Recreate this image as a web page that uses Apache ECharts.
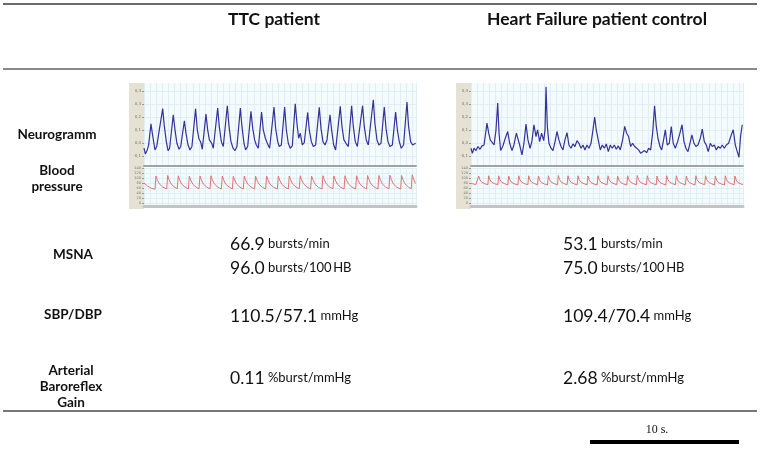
<!DOCTYPE html>
<html><head><meta charset="utf-8">
<script src="https://cdn.jsdelivr.net/npm/echarts@6/dist/echarts.min.js"></script>
<style>html,body{margin:0;padding:0;background:#fff}#c{width:760px;height:451px}</style>
</head><body><div id="c"></div><script>
// ---- data ----
const columnTitles = ['TTC patient', 'Heart Failure patient control'];
const rowLabels = ['Neurogramm', 'Blood\npressure', 'MSNA', 'SBP/DBP', 'Arterial\nBaroreflex\nGain'];
const msnaPerMin = [66.9, 53.1];
const msnaPer100HB = [96.0, 75.0];
const sbp = [110.5, 109.4];
const dbp = [57.1, 70.4];
const baroGain = [0.11, 2.68];
const neuroTicks = [-0.1, 0, 0.1, 0.2, 0.3, 0.4];
const bpTicks = [0, 20, 40, 60, 80, 100, 120, 140];
const scaleBarLabel = '10 s.';

// neurogram traces [time s, amplitude]
const neuroTTC = [
[0,-0.041],[0.11,-0.085],[0.25,-0.059],[0.38,-0.016],
[0.57,0.147],[0.68,0.075],[0.79,0.010],[0.90,-0.054],[1.04,-0.028],[1.20,-0.041],
[1.53,0.264],[1.67,0.127],[1.83,0.010],[1.97,-0.059],[2.10,-0.041],
[2.40,0.217],[2.54,0.101],[2.70,-0.003],[2.87,-0.049],[3.01,-0.028],
[3.31,0.171],[3.44,0.075],[3.61,-0.016],[3.77,-0.054],[3.93,-0.028],
[4.23,0.264],[4.37,0.101],[4.51,0.028],[4.64,0.010],[4.78,-0.049],
[5.08,0.222],[5.22,0.101],[5.36,0.023],[5.55,-0.003],[5.68,-0.041],
[6.04,0.269],[6.17,0.127],[6.34,0.010],[6.50,-0.028],[6.64,-0.041],
[6.83,0.287],[6.97,0.127],[7.13,0.010],[7.30,-0.041],[7.46,-0.059],[7.62,-0.028],
[7.90,0.269],[8.03,0.127],[8.20,-0.003],[8.33,-0.054],[8.50,-0.028],
[8.77,0.243],[8.91,0.114],[9.07,0.023],[9.21,-0.016],[9.37,-0.041],
[9.64,0.238],[9.78,0.101],[9.95,0.036],[10.11,-0.003],[10.30,-0.041],
[10.66,0.276],[10.79,0.114],[10.96,0.010],[11.09,-0.028],[11.26,-0.016],
[11.53,0.276],[11.67,0.101],[11.83,-0.003],[11.99,-0.041],[12.16,-0.023],
[12.40,0.302],[12.54,0.152],[12.68,0.036],[12.81,0.075],[12.98,-0.016],[13.14,0.003],
[13.42,0.235],[13.55,0.101],[13.72,0.010],[13.88,-0.028],[14.07,-0.016],
[14.37,0.274],[14.51,0.114],[14.67,0.010],[14.84,-0.016],[15.00,0.023],
[15.25,0.217],[15.38,0.101],[15.55,-0.016],[15.71,-0.054],[15.85,-0.049],
[16.09,0.282],[16.23,0.127],[16.39,0.023],[16.56,-0.003],[16.75,-0.028],
[17.02,0.287],[17.16,0.127],[17.32,0.010],[17.49,-0.028],[17.65,-0.016],
[17.92,0.287],[18.06,0.127],[18.22,0.023],[18.39,-0.016],[18.55,-0.003],
[18.80,0.333],[18.93,0.152],[19.10,0.023],[19.26,-0.016],[19.43,-0.003],
[19.70,0.276],[19.84,0.114],[20.00,0.010],[20.16,-0.028],[20.36,-0.016],
[20.63,0.238],[20.77,0.101],[20.93,0.010],[21.09,-0.041],[21.28,-0.016],
[21.56,0.315],[21.69,0.127],[21.86,0.010],[22.02,-0.016],[22.27,-0.003]
];
const neuroHF = [
[0,-0.041],[0.11,-0.080],[0.25,-0.041],[0.41,-0.059],[0.57,-0.028],[0.74,-0.049],[0.90,-0.023],[1.07,-0.016],
[1.31,0.152],[1.45,0.075],[1.58,0.023],[1.72,0.028],[1.89,-0.016],[2.05,0.101],[2.19,0.307],[2.30,0.075],
[2.43,-0.059],[2.60,-0.028],[2.81,0.036],[3.01,0.088],[3.17,-0.003],[3.36,-0.059],[3.52,-0.016],[3.72,0.075],
[3.85,0.088],[3.99,-0.016],[4.18,-0.093],[4.34,-0.003],[4.51,0.145],[4.67,0.023],[4.84,-0.041],[4.99,0.010],
[5.16,0.140],[5.33,0.049],[5.46,0.101],[5.63,0.010],[5.79,0.075],[5.96,0.018],[6.07,0.101],[6.15,0.432],
[6.26,0.127],[6.39,-0.003],[6.56,-0.041],[6.72,-0.059],[6.89,0.010],[7.05,0.088],[7.21,0.023],[7.38,-0.028],
[7.54,-0.054],[7.70,0.023],[7.87,0.080],[8.03,-0.016],[8.20,-0.041],[8.36,-0.008],[8.52,-0.028],[8.69,0.018],
[8.85,-0.003],[9.02,-0.041],[9.18,-0.016],[9.34,-0.054],[9.51,-0.016],[9.67,-0.041],[9.84,-0.003],[10.00,0.101],
[10.14,0.199],[10.27,0.101],[10.44,0.018],[10.60,-0.054],[10.77,-0.016],[10.93,-0.041],[11.09,-0.008],[11.26,-0.067],
[11.42,-0.016],[11.58,-0.041],[11.75,-0.016],[11.91,-0.049],[12.08,-0.023],[12.24,-0.054],[12.43,0.023],[12.60,0.127],
[12.76,0.075],[12.92,0.049],[13.09,-0.028],[13.25,-0.003],[13.42,-0.028],[13.58,-0.016],[13.74,-0.054],[13.91,-0.080],
[14.07,-0.093],[14.23,-0.059],[14.40,-0.075],[14.56,-0.041],[14.73,-0.054],[14.89,0.075],[15.05,0.287],[15.19,0.127],
[15.33,0.036],[15.49,-0.028],[15.63,-0.054],[15.79,0.023],[15.93,0.101],[16.09,-0.016],[16.26,-0.003],[16.42,0.127],
[16.58,-0.003],[16.75,-0.041],[16.94,0.010],[17.13,0.075],[17.30,0.140],[17.46,0.010],[17.62,-0.041],[17.79,-0.067],
[17.95,-0.003],[18.11,0.062],[18.28,-0.003],[18.44,-0.028],[18.61,-0.016],[18.80,0.036],[18.96,0.106],[19.13,0.010],
[19.29,-0.016],[19.45,-0.067],[19.62,-0.003],[19.78,-0.028],[19.95,-0.016],[20.11,-0.054],[20.27,-0.028],[20.44,-0.041],
[20.60,-0.016],[20.77,-0.041],[20.93,-0.016],[21.12,-0.003],[21.34,0.062],[21.50,0.101],[21.67,-0.016],[21.83,-0.067],
[21.97,-0.111],[22.10,0.049],[22.24,0.140]
];
// blood pressure traces [time s, mmHg]
const bpTTC = [
[0,80],[0.3,67],[0.6,59],[0.90,55],
[0.98,108],[1.09,93],[1.25,77],[1.53,64],[1.86,56],
[1.94,110],[2.05,94],[2.21,77],[2.49,64],[2.73,57],
[2.81,109],[2.92,93],[3.08,76],[3.36,64],[3.64,56],
[3.72,107],[3.83,92],[3.99,76],[4.27,63],[4.51,57],
[4.59,108],[4.70,93],[4.86,76],[5.14,64],[5.41,56],
[5.49,109],[5.60,93],[5.76,77],[6.04,64],[6.34,56],
[6.42,108],[6.53,93],[6.69,76],[6.97,64],[7.24,56],
[7.32,107],[7.43,92],[7.59,76],[7.87,63],[8.14,56],
[8.22,108],[8.33,93],[8.49,76],[8.77,64],[9.07,56],
[9.15,107],[9.26,92],[9.42,76],[9.70,63],[9.97,56],
[10.05,108],[10.16,93],[10.32,76],[10.60,64],[10.93,56],
[11.01,107],[11.12,92],[11.28,76],[11.56,63],[11.83,56],
[11.91,108],[12.02,93],[12.18,76],[12.46,64],[12.73,57],
[12.81,109],[12.92,93],[13.08,77],[13.36,64],[13.66,56],
[13.74,108],[13.85,93],[14.01,76],[14.29,63],[14.59,56],
[14.67,109],[14.78,93],[14.94,77],[15.22,64],[15.49,57],
[15.57,108],[15.68,92],[15.84,76],[16.12,63],[16.40,56],
[16.48,109],[16.59,93],[16.75,77],[17.03,64],[17.35,56],
[17.43,109],[17.54,93],[17.70,76],[17.98,64],[18.25,56],
[18.33,110],[18.44,94],[18.60,77],[18.88,64],[19.18,56],
[19.26,110],[19.37,94],[19.53,77],[19.81,64],[20.08,57],
[20.16,111],[20.27,95],[20.43,77],[20.71,64],[21.04,56],
[21.12,110],[21.23,94],[21.39,77],[21.67,64],[21.91,57],
[21.99,113],[22.10,96],[22.26,78],[22.30,77]
];
const bpHF = [
[0,78],[0.20,76],[0.40,74],[0.56,73],
[0.63,108],[0.73,93],[0.88,83],[1.13,77],[1.38,73],
[1.45,109],[1.55,93],[1.70,83],[1.95,77],[2.20,73],
[2.27,109],[2.37,93],[2.52,83],[2.77,77],[3.02,72],
[3.09,108],[3.19,92],[3.34,82],[3.59,76],[3.84,72],
[3.91,109],[4.01,93],[4.16,83],[4.41,77],[4.66,73],
[4.73,109],[4.83,93],[4.98,83],[5.23,77],[5.45,73],
[5.52,108],[5.62,92],[5.77,82],[6.02,76],[6.27,72],
[6.34,109],[6.44,93],[6.59,83],[6.84,77],[7.09,73],
[7.16,110],[7.26,94],[7.41,83],[7.66,77],[7.88,73],
[7.95,109],[8.05,93],[8.20,83],[8.45,77],[8.70,72],
[8.77,109],[8.87,93],[9.02,83],[9.27,77],[9.52,73],
[9.59,108],[9.69,92],[9.84,82],[10.09,76],[10.34,72],
[10.41,109],[10.51,93],[10.66,83],[10.91,77],[11.16,73],
[11.23,109],[11.33,93],[11.48,83],[11.73,77],[11.95,73],
[12.02,108],[12.12,92],[12.27,82],[12.52,76],[12.77,72],
[12.84,109],[12.94,93],[13.09,83],[13.34,77],[13.56,73],
[13.63,110],[13.73,94],[13.88,83],[14.13,77],[14.38,73],
[14.45,109],[14.55,93],[14.70,83],[14.95,77],[15.18,72],
[15.25,108],[15.35,92],[15.50,82],[15.75,76],[15.97,72],
[16.04,109],[16.14,93],[16.29,83],[16.54,77],[16.76,73],
[16.83,109],[16.93,93],[17.08,83],[17.33,77],[17.58,73],
[17.65,108],[17.75,92],[17.90,82],[18.15,76],[18.37,72],
[18.44,109],[18.54,93],[18.69,83],[18.94,77],[19.16,73],
[19.23,109],[19.33,93],[19.48,83],[19.73,77],[19.96,72],
[20.03,108],[20.13,92],[20.28,82],[20.53,76],[20.78,72],
[20.85,109],[20.95,93],[21.10,83],[21.35,77],[21.57,73],
[21.64,108],[21.74,92],[21.89,82],[22.14,76],[22.30,74]
];

// ---- layout ----
const T_MAX = 22.3;
const panelLeft = [144, 471];
const PANEL_W = 272;
const NEURO_TOP = 83, NEURO_H = 83;
const BP_TOP = 168, BP_H = 38;
const LABEL_FONT = 'Lato, "Open Sans", sans-serif';
const fmtComma = v => v.toFixed(1).replace('.', ',');

const grids = [], xAxes = [], yAxes = [], series = [];
function addPanel(left, neuroData, bpData) {
  // neurogram
  let gi = grids.length;
  grids.push({left: left, top: NEURO_TOP, width: PANEL_W, height: NEURO_H, show: true,
    backgroundColor: '#f5fbfd', borderWidth: 0});
  xAxes.push({gridIndex: gi, type: 'value', min: 0, max: T_MAX, interval: 0.5,
    axisLine: {show: true, onZero: false, lineStyle: {color: '#a3a3a3', width: 2}},
    axisTick: {show: false}, axisLabel: {show: false},
    splitLine: {show: true, lineStyle: {color: '#dcf0f6', width: 1}}});
  yAxes.push({gridIndex: gi, type: 'value', min: -0.178, max: 0.462, interval: 0.05,
    axisLine: {show: false},
    axisTick: {show: true, customValues: neuroTicks, length: 2, lineStyle: {color: '#999'}},
    axisLabel: {show: true, customValues: neuroTicks, formatter: v => fmtComma(v), fontSize: 4,
      color: '#777', margin: 3, fontFamily: 'DejaVu Sans'},
    splitLine: {show: true, lineStyle: {color: '#dcf0f6', width: 1}}});
  series.push({type: 'line', xAxisIndex: xAxes.length - 1, yAxisIndex: yAxes.length - 1,
    data: neuroData, showSymbol: false, symbol: 'none', animation: false,
    lineStyle: {color: '#33339a', width: 1.2}});
  // blood pressure
  gi = grids.length;
  grids.push({left: left, top: BP_TOP, width: PANEL_W, height: BP_H, show: true,
    backgroundColor: '#f5fbfd', borderWidth: 0});
  xAxes.push({gridIndex: gi, type: 'value', min: 0, max: T_MAX, interval: 0.5,
    axisLine: {show: true, onZero: false, lineStyle: {color: '#c4c4c4', width: 3}},
    axisTick: {show: false}, axisLabel: {show: false},
    splitLine: {show: true, lineStyle: {color: '#dcf0f6', width: 1}}});
  yAxes.push({gridIndex: gi, type: 'value', min: -12, max: 140, interval: 20,
    axisLine: {show: false},
    axisTick: {show: true, customValues: bpTicks, length: 2, lineStyle: {color: '#999'}},
    axisLabel: {show: true, customValues: bpTicks, fontSize: 3.5, color: '#777', margin: 3,
      fontFamily: 'DejaVu Sans'},
    splitLine: {show: true, lineStyle: {color: '#dcf0f6', width: 1}}});
  series.push({type: 'line', xAxisIndex: xAxes.length - 1, yAxisIndex: yAxes.length - 1,
    data: bpData, showSymbol: false, symbol: 'none', animation: false,
    lineStyle: {color: '#e07474', width: 1}});
}
addPanel(panelLeft[0], neuroTTC, bpTTC);
addPanel(panelLeft[1], neuroHF, bpHF);

const colX = [230, 563];
const graphic = [];
// panel side strips
panelLeft.forEach(l => {
  graphic.push({type: 'rect', z: -1, shape: {x: l - 15, y: NEURO_TOP, width: 15, height: 126},
    style: {fill: '#e5e2d3'}});
});
// table rules
graphic.push({type: 'line', shape: {x1: 3, y1: 4, x2: 757, y2: 4}, style: {stroke: '#3a3a3a', lineWidth: 1.5}});
graphic.push({type: 'line', shape: {x1: 3, y1: 69, x2: 757, y2: 69}, style: {stroke: '#8a8a8a', lineWidth: 2}});
graphic.push({type: 'line', shape: {x1: 3, y1: 411, x2: 757, y2: 411}, style: {stroke: '#4a4a4a', lineWidth: 1.5}});
// scale bar
graphic.push({type: 'line', shape: {x1: 590, y1: 442, x2: 739, y2: 442}, style: {stroke: '#000', lineWidth: 4}});
graphic.push({type: 'text', x: 657, y: 430, style: {text: scaleBarLabel, font: '12px "Liberation Serif", "DejaVu Serif", serif',
  fill: '#111', align: 'center', verticalAlign: 'middle'}});
// column titles
const titleX = [274, 597];
columnTitles.forEach((t, i) => graphic.push({type: 'text', x: titleX[i], y: 19,
  style: {text: t, font: 'bold 17.5px ' + LABEL_FONT, fill: '#111', align: 'center', verticalAlign: 'middle'}}));
// row labels
const rowPos = [[57, 135], [57, 179], [73, 255], [73, 315], [71, 387]];
rowLabels.forEach((t, i) => graphic.push({type: 'text', x: rowPos[i][0], y: rowPos[i][1],
  style: {text: t, font: 'bold 13.5px ' + LABEL_FONT, fill: '#111', align: 'center', verticalAlign: 'middle',
    lineHeight: 16}}));
// values
const rich = {v: {fontSize: 17.5, fontFamily: LABEL_FONT, fill: '#111'}, u: {fontSize: 13, fontFamily: LABEL_FONT, fill: '#111'}};
function valText(x, y, big, unit) {
  graphic.push({type: 'text', x: x, y: y, style: {text: '{v|' + big + '} {u|' + unit + '}', rich: rich,
    align: 'left', verticalAlign: 'middle'}});
}
[0, 1].forEach(i => {
  valText(colX[i], 244, msnaPerMin[i].toFixed(1), 'bursts/min');
  valText(colX[i], 268, msnaPer100HB[i].toFixed(1), 'bursts/100\u2009HB');
  valText(colX[i], 316, sbp[i].toFixed(1) + '/' + dbp[i].toFixed(1), 'mmHg');
  valText(colX[i], 378, baroGain[i].toFixed(2), '%burst/mmHg');
});

const chart = echarts.init(document.getElementById('c'), null, {renderer: 'canvas'});
chart.setOption({
  animation: false,
  backgroundColor: '#ffffff',
  grid: grids, xAxis: xAxes, yAxis: yAxes, series: series,
  graphic: graphic
});
</script></body></html>
